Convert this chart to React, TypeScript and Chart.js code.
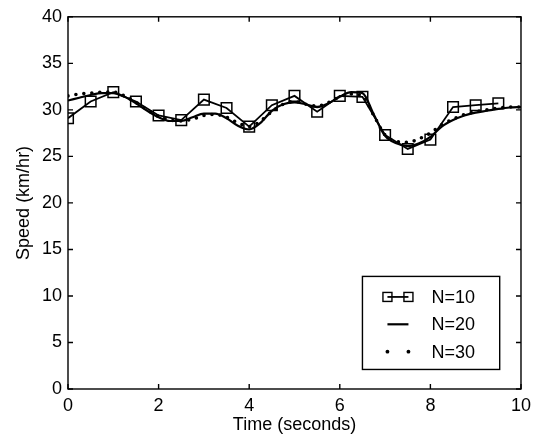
import React, { useEffect, useRef } from "react";
import { Chart, registerables } from "chart.js";

Chart.register(...registerables);

const timeN10 = [0, 0.5, 1, 1.5, 2, 2.5, 3, 3.5, 4, 4.5, 5, 5.5, 6, 6.5, 7, 7.5, 8, 8.5, 9, 9.5];
const speedN10 = [29.1, 30.9, 31.9, 30.9, 29.4, 28.9, 31.1, 30.2, 28.2, 30.5, 31.5, 29.8, 31.5, 31.4, 27.3, 25.8, 26.8, 30.3, 30.5, 30.7];

const timeFine = [
  0, 0.25, 0.5, 0.75, 1, 1.25, 1.5, 1.75, 2, 2.25, 2.5, 2.75, 3, 3.25, 3.5, 3.75, 4, 4.25, 4.5, 4.75,
  5, 5.25, 5.5, 5.75, 6, 6.25, 6.5, 6.75, 7, 7.25, 7.5, 7.75, 8, 8.25, 8.5, 8.75, 9, 9.25, 9.5, 9.75, 10,
];
const speedN20 = [
  31.0, 31.3, 31.6, 31.8, 31.8, 31.4, 30.7, 29.9, 29.2, 28.8, 28.8, 29.2, 29.6, 29.6, 29.1, 28.3, 27.9, 28.6, 29.9, 30.6,
  30.8, 30.6, 30.3, 30.7, 31.4, 31.9, 31.8, 29.5, 27.2, 26.4, 26.1, 26.4, 27.1, 28.2, 28.9, 29.4, 29.7, 29.9, 30.1, 30.25, 30.3,
];
const speedN30 = [
  31.5, 31.7, 31.8, 31.9, 31.9, 31.5, 30.8, 30.0, 29.3, 28.9, 28.8, 29.0, 29.4, 29.5, 29.2, 28.6, 28.2, 28.8, 29.8, 30.6,
  30.9, 30.6, 30.4, 30.8, 31.4, 31.7, 31.5, 29.4, 27.3, 26.6, 26.5, 26.9, 27.5, 28.4, 29.0, 29.5, 29.8, 30.0, 30.2, 30.3, 30.3,
];

const xTicks = [0, 2, 4, 6, 8, 10];
const yTicks = [0, 5, 10, 15, 20, 25, 30, 35, 40];
const seriesLabels = ["N=10", "N=20", "N=30"];
const xTitle = "Time (seconds)";
const yTitle = "Speed (km/hr)";

const FONT = "'Liberation Sans', Arial, Helvetica, sans-serif";
const FS = 18;

const framePlugin = {
  id: "matlabFrame",
  afterDraw(chart: any) {
    const ctx = chart.ctx;
    const { left, right, top, bottom } = chart.chartArea;
    const xs = chart.scales.x;
    const ys = chart.scales.y;
    ctx.save();
    ctx.strokeStyle = "#000";
    ctx.lineWidth = 1.4;
    ctx.strokeRect(left, top, right - left, bottom - top);
    const tl = 5;
    ctx.beginPath();
    xTicks.forEach((v) => {
      const px = xs.getPixelForValue(v);
      ctx.moveTo(px, bottom);
      ctx.lineTo(px, bottom - tl);
      ctx.moveTo(px, top);
      ctx.lineTo(px, top + tl);
    });
    yTicks.forEach((v) => {
      const py = ys.getPixelForValue(v);
      ctx.moveTo(left, py);
      ctx.lineTo(left + tl, py);
      ctx.moveTo(right, py);
      ctx.lineTo(right - tl, py);
    });
    ctx.stroke();

    // legend
    const bx = xs.getPixelForValue(6.5);
    const bRight = xs.getPixelForValue(9.53);
    const bTop = ys.getPixelForValue(12.1);
    const bBottom = ys.getPixelForValue(2.1);
    ctx.fillStyle = "#fff";
    ctx.fillRect(bx, bTop, bRight - bx, bBottom - bTop);
    ctx.lineWidth = 1.4;
    ctx.strokeRect(bx, bTop, bRight - bx, bBottom - bTop);
    const rowH = (bBottom - bTop) / 3.4;
    const s1 = bx + 25;
    const s2 = bx + 46;
    const tx = bx + 69;
    ctx.font = `${FS}px ${FONT}`;
    ctx.textBaseline = "middle";
    ctx.textAlign = "left";
    seriesLabels.forEach((lab, i) => {
      const ry = bTop + rowH * (0.75 + i);
      ctx.fillStyle = "#000";
      ctx.strokeStyle = "#000";
      if (i === 0) {
        ctx.lineWidth = 1.8;
        ctx.beginPath();
        ctx.moveTo(s1, ry);
        ctx.lineTo(s2, ry);
        ctx.stroke();
        ctx.lineWidth = 1.4;
        const h = 4.5;
        [s1, s2].forEach((sx) => {
          ctx.strokeRect(sx - h, ry - h, 2 * h, 2 * h);
        });
      } else if (i === 1) {
        ctx.lineWidth = 2.2;
        ctx.beginPath();
        ctx.moveTo(s1, ry);
        ctx.lineTo(s2, ry);
        ctx.stroke();
      } else {
        [s1, s2].forEach((sx) => {
          ctx.beginPath();
          ctx.arc(sx, ry, 1.9, 0, Math.PI * 2);
          ctx.fill();
        });
      }
      ctx.fillText(lab, tx, ry + 1);
    });
    ctx.restore();
  },
};

export default function App() {
  const ref = useRef<HTMLCanvasElement | null>(null);

  useEffect(() => {
    document.body.style.margin = "0";
    const canvas = ref.current;
    if (!canvas) return;
    const chart = new Chart(canvas, {
      type: "line",
      data: {
        datasets: [
          {
            label: seriesLabels[0],
            data: timeN10.map((t, i) => ({ x: t, y: speedN10[i] })),
            borderColor: "#000",
            borderWidth: 1.8,
            pointStyle: "rect",
            pointRadius: 7.5,
            pointBorderWidth: 1.5,
            pointBorderColor: "#000",
            pointBackgroundColor: "rgba(255,255,255,0)",
            tension: 0,
          },
          {
            label: seriesLabels[1],
            data: timeFine.map((t, i) => ({ x: t, y: speedN20[i] })),
            borderColor: "#000",
            borderWidth: 2.2,
            pointRadius: 0,
            tension: 0.4,
            cubicInterpolationMode: "monotone",
          },
          {
            label: seriesLabels[2],
            data: timeFine.map((t, i) => ({ x: t, y: speedN30[i] })),
            borderColor: "#000",
            borderWidth: 3.6,
            borderDash: [0, 8],
            borderCapStyle: "round",
            pointRadius: 0,
            tension: 0.4,
            cubicInterpolationMode: "monotone",
          },
        ],
      },
      options: {
        responsive: false,
        animation: false,
        devicePixelRatio: 1,
        layout: { padding: { left: 13, right: 16, top: 14, bottom: 8 } },
        plugins: { legend: { display: false }, tooltip: { enabled: false } },
        scales: {
          x: {
            type: "linear",
            min: 0,
            max: 10,
            afterBuildTicks: (s: any) => {
              s.ticks = xTicks.map((v) => ({ value: v }));
            },
            afterFit: (s: any) => {
              s.height = 47;
            },
            grid: { display: false, drawTicks: false },
            border: { display: false },
            ticks: {
              color: "#000",
              padding: 6,
              maxRotation: 0,
              font: { family: FONT, size: FS },
            },
            title: {
              display: true,
              text: xTitle,
              color: "#000",
              padding: 0,
              font: { family: FONT, size: FS },
            },
          },
          y: {
            type: "linear",
            min: 0,
            max: 40,
            afterBuildTicks: (s: any) => {
              s.ticks = yTicks.map((v) => ({ value: v }));
            },
            afterFit: (s: any) => {
              s.width = 55;
            },
            grid: { display: false, drawTicks: false },
            border: { display: false },
            ticks: {
              color: "#000",
              padding: 6,
              font: { family: FONT, size: FS },
            },
            title: {
              display: true,
              text: yTitle,
              color: "#000",
              padding: 0,
              font: { family: FONT, size: FS },
            },
          },
        },
      },
      plugins: [framePlugin],
    } as any);
    return () => chart.destroy();
  }, []);

  return (
    <div style={{ position: "fixed", left: 0, top: 0, width: 537, height: 444, background: "#fff" }}>
      <canvas ref={ref} width={537} height={444} style={{ display: "block" }} />
    </div>
  );
}
